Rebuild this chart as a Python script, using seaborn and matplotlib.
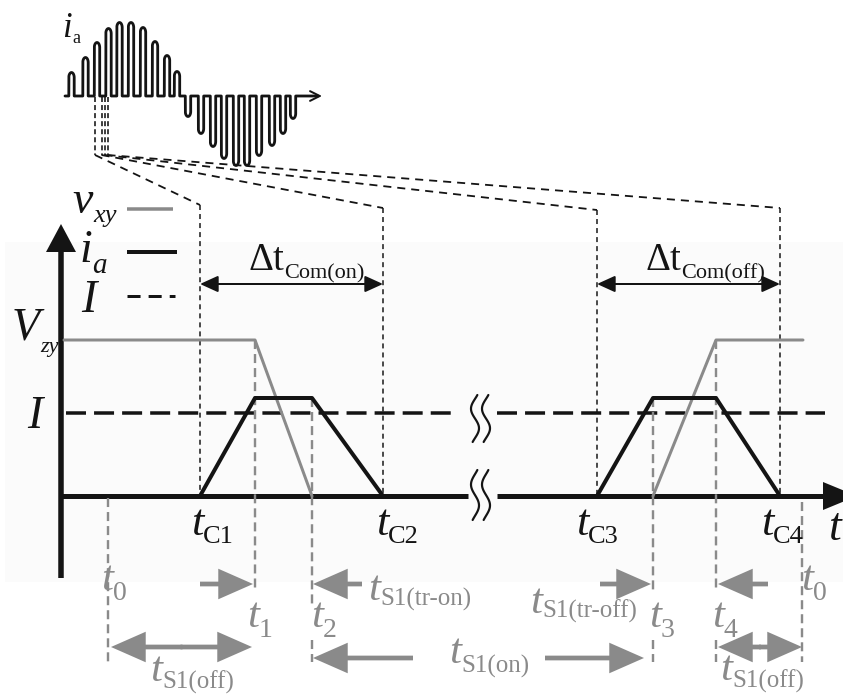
import numpy as np
import pandas as pd
import matplotlib
matplotlib.use("Agg")
import matplotlib.pyplot as plt
from matplotlib.patches import Rectangle
import seaborn as sns

sns.set_theme(style="white")
plt.rcParams["font.family"] = ["Liberation Serif", "DejaVu Serif"]
plt.rcParams["lines.scale_dashes"] = False

GRAY = "#8a8a8a"
BLACK = "#141414"

# ---------------- inset: phase current i_a over one fundamental period ----------------
inset_base = 96
inset_x = [65, 322]
pos_centers = [71.5, 85.5, 97, 108.5, 119.5, 131, 143, 155, 167, 177]
pos_heights = [25, 40, 55, 69, 75, 75, 70, 56, 42, 26]
neg_centers = [188, 201, 213, 224, 236, 247, 259, 272, 283, 293]
neg_depths = [22, 39, 52, 64, 71, 71, 61, 51, 39, 24]
pulse_width = 5.4
sample_x = [95, 101.5, 104.5, 107.5]      # instants magnified below
sample_bottom = 155

# ---------------- magnified commutation view ----------------
t_com = [200, 383, 597, 780]              # t_C1 .. t_C4
com_names = ["C1", "C2", "C3", "C4"]
com_top = [205, 208, 210, 208]
t_sw = [108, 255, 312, 653, 716, 802]     # t0, t1, t2, t3, t4, t0
sw_names = ["0", "1", "2", "3", "4", "0"]
y_zero = 496
y_vzy = 340
y_ipk = 398
y_I = 413
axis_x0 = 61
axis_top = 224
axis_bottom = 578
axis_break = [468, 497]
I_break = [458, 497]
x_end = 825

# v_xy and i_a trajectories (x positions are switching instants)
vxy_a_x = [64, t_sw[1], t_sw[2]]
vxy_a_lvl = [y_vzy, y_vzy, y_zero]
vxy_b_x = [t_sw[3], t_sw[4], 803]
vxy_b_lvl = [y_zero, y_vzy, y_vzy]
ia_a_x = [t_com[0], t_sw[1], t_sw[2], t_com[1]]
ia_b_x = [t_com[2], t_sw[3], t_sw[4], t_com[3]]
ia_lvl = [y_zero, y_ipk, y_ipk, y_zero]


def px(v):
    return v * 0.72


fig = plt.figure(figsize=(8.43, 6.96), dpi=100)
ax = fig.add_axes([0, 0, 1, 1])

ax.add_patch(Rectangle((5, 242), 838, 340, color="#fbfbfb", zorder=0, lw=0))

# ---- inset waveform: each pulse is a narrow arch with an elliptical cap ----
xs, ys = [inset_x[0]], [inset_base]
r = pulse_width / 2
cap = 5.0
for c, h, s in list(zip(pos_centers, pos_heights, [1] * 10)) + list(zip(neg_centers, neg_depths, [-1] * 10)):
    top = inset_base - s * (h - 1.5 - cap)
    th = np.linspace(np.pi, 0, 24)
    xs += [c - r, c - r] + list(c + r * np.cos(th)) + [c + r, c + r]
    ys += [inset_base, top] + list(top - s * cap * np.sin(th)) + [top, inset_base]
xs.append(inset_x[1] - 4)
ys.append(inset_base)
sns.lineplot(x=xs, y=ys, sort=False, estimator=None, ax=ax, color=BLACK, lw=px(2.8))
ax.annotate("", xy=(inset_x[1], inset_base), xytext=(inset_x[1] - 12, inset_base),
            arrowprops=dict(arrowstyle="->,head_length=0.7,head_width=0.35", mutation_scale=10,
                            color=BLACK, lw=px(2), shrinkA=0, shrinkB=0))
ax.text(72, 37, "i", ha="right", va="baseline", fontsize=25, style="italic", color=BLACK)
ax.text(72, 43, "a", ha="left", va="baseline", fontsize=13, color=BLACK)

# sample markers and fan-out lines toward the commutation instants
for sx in sample_x:
    ax.plot([sx, sx], [inset_base + 1, sample_bottom], color=BLACK, lw=px(1.6), dashes=(3.6, 2.2))
for sx, tx, ty in zip(sample_x, t_com, com_top):
    ax.plot([sx, tx], [sample_bottom, ty], color=BLACK, lw=px(1.8), dashes=(5.8, 4.3))
    ax.plot([tx, tx], [ty, y_zero], color=BLACK, lw=px(1.5), dashes=(3.6, 2.9))

# ---- main axes ----
ax.plot([axis_x0, axis_x0], [axis_bottom, axis_top + 20], color=BLACK, lw=px(5.5), solid_capstyle="butt")
ax.fill([axis_x0 - 15, axis_x0 + 15, axis_x0], [252, 252, axis_top], color=BLACK, lw=0)
ax.plot([axis_x0 - 2.5, axis_break[0]], [y_zero, y_zero], color=BLACK, lw=px(5), solid_capstyle="butt")
ax.plot([axis_break[1], 826], [y_zero, y_zero], color=BLACK, lw=px(5), solid_capstyle="butt")
ax.fill([823, 823, 857], [y_zero - 14, y_zero + 14, y_zero], color=BLACK, lw=0)

# I reference level
ax.plot([66, I_break[0]], [y_I, y_I], color=BLACK, lw=px(3.5), dashes=(14.4, 5.8))
ax.plot([I_break[1], x_end], [y_I, y_I], color=BLACK, lw=px(3.5), dashes=(14.4, 5.8))

# break marks
tt = np.linspace(-0.1, 1.1, 60)
for y0, h in [(395, 47), (470, 50)]:
    for xc in [475, 486]:
        ax.plot(xc - 4 * np.sin(2 * np.pi * tt), y0 + h * (tt + 0.1) / 1.2, color=BLACK, lw=px(2.2))

# gray switching-instant markers
gray_dash = dict(color=GRAY, lw=px(2.4), dashes=(6.5, 3.6))
gray_spans = [
    [(498, 662)],
    [(y_vzy, 590)],
    [(y_ipk, 605), (640, 662)],
    [(y_ipk, 590), (640, 662)],
    [(y_vzy, 590), (640, 662)],
    [(502, 662)],
]
for x, spans in zip(t_sw, gray_spans):
    for a, b in spans:
        ax.plot([x, x], [a, b], **gray_dash)

# waveforms
df_v = pd.DataFrame({"x": vxy_a_x + vxy_b_x, "y": vxy_a_lvl + vxy_b_lvl, "seg": [0] * 3 + [1] * 3})
df_i = pd.DataFrame({"x": ia_a_x + ia_b_x, "y": ia_lvl + ia_lvl, "seg": [0] * 4 + [1] * 4})
sns.lineplot(data=df_v, x="x", y="y", units="seg", estimator=None, sort=False, ax=ax, color=GRAY, lw=px(3))
sns.lineplot(data=df_i, x="x", y="y", units="seg", estimator=None, sort=False, ax=ax, color=BLACK, lw=px(4))

# legend
ax.plot([127, 173], [209, 209], color=GRAY, lw=px(3.5), solid_capstyle="butt")
ax.plot([127, 177], [252, 252], color=BLACK, lw=px(4), solid_capstyle="butt")
ax.plot([127, 175], [296, 296], color=BLACK, lw=px(3), dashes=(9.4, 5.8))


def sub_label(xj, yb, main, sub, color, fm, fs, dy, main_style="italic", sub_style="normal"):
    ax.text(xj, yb, main, ha="right", va="baseline", fontsize=fm, style=main_style, color=color)
    ax.text(xj, yb + dy, sub, ha="left", va="baseline", fontsize=fs, style=sub_style, color=color)


sub_label(93, 213, "v", "xy", BLACK, 33, 19, 9, sub_style="italic")
sub_label(92, 262, "i", "a", BLACK, 33, 21, 11, sub_style="italic")
ax.text(89, 312, "I", ha="center", va="baseline", fontsize=33, style="italic", color=BLACK)
sub_label(40, 340, "V", "zy", BLACK, 33, 16, 12, sub_style="italic")
ax.text(35, 428, "I", ha="center", va="baseline", fontsize=33, style="italic", color=BLACK)
ax.text(829, 540, "t", ha="left", va="baseline", fontsize=33, style="italic", color=BLACK)

for x, name in zip([203, 388, 588, 773], com_names):
    sub_label(x, 535, "t", name, BLACK, 32, 19, 8)

# commutation intervals
for (a, b), xj, name in [((t_com[0], t_com[1]), 284, "Com(on)"), ((t_com[2], t_com[3]), 681, "Com(off)")]:
    ax.annotate("", xy=(b, 284), xytext=(a, 284),
                arrowprops=dict(arrowstyle="<|-|>,head_length=1.1,head_width=0.5", mutation_scale=10,
                                color=BLACK, lw=px(2), shrinkA=0, shrinkB=0))
    sub_label(xj, 270, "\u0394t", name, BLACK, 28, 16, 8, main_style="normal")

# gray instant labels
for x, yb, name in [(113, 590, "0"), (259, 627, "1"), (323, 627, "2"), (661, 627, "3"),
                    (724, 627, "4"), (813, 590, "0")]:
    sub_label(x, yb, "t", name, GRAY, 31, 20, 10)

sub_label(380, 600, "t", "S1(tr-on)", GRAY, 31, 18, 6)
sub_label(542, 613, "t", "S1(tr-off)", GRAY, 31, 18, 5)
sub_label(162, 681, "t", "S1(off)", GRAY, 31, 18, 8)
sub_label(461, 663, "t", "S1(on)", GRAY, 31, 18, 10)
sub_label(732, 680, "t", "S1(off)", GRAY, 31, 18, 8)

# gray interval arrows (filled shapes, no outline)
one = dict(arrowstyle="simple,head_length=2.5,head_width=2.2,tail_width=0.34", mutation_scale=10,
           color=GRAY, lw=0, shrinkA=0, shrinkB=0)
for tail, tip in [((200, 584), (t_sw[1] - 2, 584)), ((362, 584), (t_sw[2] + 1, 584)),
                  ((600, 584), (t_sw[3] - 2, 584)), ((768, 584), (t_sw[4] + 2, 584)),
                  ((413, 658), (t_sw[2] + 1, 658)), ((545, 658), (t_sw[3] - 9, 658))]:
    ax.annotate("", xy=tip, xytext=tail, arrowprops=one)
# double-headed spans: two heads drawn outward from the middle
for a, b in [(t_sw[0] + 3, t_sw[1] - 3), (t_sw[4] + 2, t_sw[5])]:
    mid = (a + b) / 2
    ax.annotate("", xy=(b, 647), xytext=(mid - 1, 647), arrowprops=one)
    ax.annotate("", xy=(a, 647), xytext=(mid + 1, 647), arrowprops=one)

ax.set_xlim(0, 843)
ax.set_ylim(696, 0)
ax.axis("off")
fig.savefig("out.png", dpi=100)
